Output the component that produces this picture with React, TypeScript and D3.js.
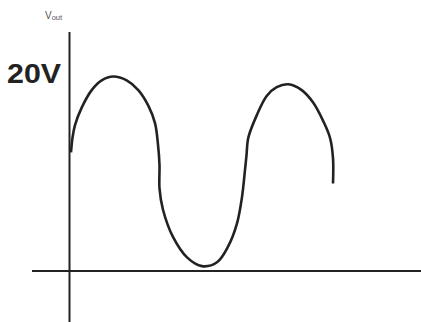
import React from "react";
import * as d3 from "d3";

// Output voltage trace: time (arbitrary units) and volts
const times = [0.1, 0.25, 0.5, 1.17, 2.17, 3.17, 4.33, 5.67, 6.83, 7.83, 8.5, 8.8, 8.95, 8.95, 9.3, 10.3, 11.7, 13.2, 14.7, 15.8, 16.7, 17.2, 17.5, 17.65, 17.83, 18.67, 19.67, 20.67, 21.83, 23.17, 24.33, 25.33, 26.0, 26.3, 26.3];
const volts = [12.2, 13.7, 15.0, 16.8, 18.6, 19.6, 20.0, 19.6, 18.6, 17.0, 15.2, 13.0, 10.9, 8.5, 6.3, 3.5, 1.4, 0.5, 0.9, 2.5, 4.9, 7.6, 10.4, 11.9, 13.7, 16.0, 18.0, 18.9, 19.2, 18.6, 17.3, 15.4, 13.7, 11.6, 9.0];
const peakLabel = "20V";
const peakValue = 20;
const axisLabel = "V";
const axisLabelSub = "out";

const W = 421;
const H = 322;

export default function App() {
  const x = d3.scaleLinear().domain([0, 35]).range([70, 420]);
  const y = d3.scaleLinear().domain([0, 20]).range([271, 76.5]);

  const pts: [number, number][] = times.map((t, i) => [x(t), y(volts[i])]);
  const line = d3.line().curve(d3.curveCatmullRom.alpha(0.5));
  const path = line(pts) || "";

  const ink = "#222";

  return (
    <svg
      width={W}
      height={H}
      style={{ position: "fixed", left: 0, top: 0, background: "#fff" }}
    >
      {/* axes */}
      <line x1={x(0) - 0.5} x2={x(0) - 0.5} y1={32} y2={H} stroke={ink} strokeWidth={2} />
      <line x1={32} x2={W} y1={y(0)} y2={y(0)} stroke={ink} strokeWidth={2.2} />

      {/* axis title */}
      <text
        x={45}
        y={19}
        fontFamily="Liberation Sans, Arial, sans-serif"
        fontSize={10}
        fill="#555"
      >
        {axisLabel}
        <tspan fontSize={7.5} dy={1}>{axisLabelSub}</tspan>
      </text>

      {/* peak voltage label */}
      <text
        x={7}
        y={y(peakValue) + 6}
        fontFamily="Liberation Sans, Arial, sans-serif"
        fontSize={27}
        fontWeight="bold"
        fill={ink}
        textLength={54}
        lengthAdjust="spacingAndGlyphs"
      >
        {peakLabel}
      </text>

      {/* waveform */}
      <path d={path} fill="none" stroke={ink} strokeWidth={2.6} strokeLinecap="butt" strokeLinejoin="round" />
    </svg>
  );
}
